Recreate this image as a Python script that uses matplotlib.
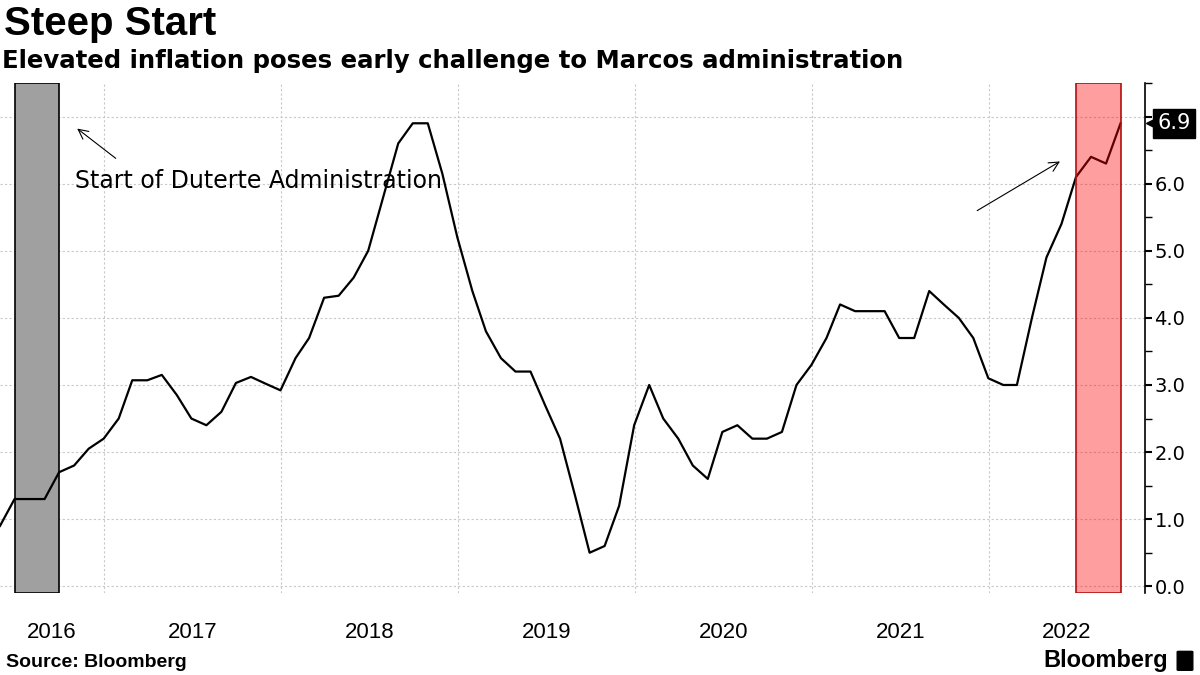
import matplotlib
matplotlib.use("Agg")
import matplotlib.pyplot as plt
import matplotlib.dates as mdates
import matplotlib.transforms as mtrans
from matplotlib.patches import FancyBboxPatch
import pandas as pd

# ─── 数据 (读自原图, 月末值, 2016-05 ~ 2022-09) ───────────
START_MONTH = "2016-05-31"
cpi_yoy = [
    0.9, 1.3, 1.3, 1.3, 1.7, 1.8, 2.05, 2.2,                            # 2016 May-Dec
    2.5, 3.07, 3.07, 3.15, 2.85, 2.5, 2.4, 2.6, 3.03, 3.12, 3.02, 2.92,  # 2017
    3.4, 3.7, 4.3, 4.33, 4.6, 5.0, 5.8, 6.6, 6.9, 6.9, 6.15, 5.2,       # 2018
    4.4, 3.8, 3.4, 3.2, 3.2, 2.7, 2.2, 1.35, 0.5, 0.6, 1.2, 2.4,        # 2019
    3.0, 2.5, 2.2, 1.8, 1.6, 2.3, 2.4, 2.2, 2.2, 2.3, 3.0, 3.3,         # 2020
    3.7, 4.2, 4.1, 4.1, 4.1, 3.7, 3.7, 4.4, 4.2, 4.0, 3.7, 3.1,         # 2021
    3.0, 3.0, 4.0, 4.9, 5.4, 6.1, 6.4, 6.3, 6.9,                        # 2022 Jan-Sep
]
dates = pd.date_range(START_MONTH, periods=len(cpi_yoy), freq="ME")

duterte_span = ("2016-06-30", "2016-09-30")
marcos_span = ("2022-06-30", "2022-09-30")
years = [2016, 2017, 2018, 2019, 2020, 2021, 2022]
y_ticks = [0, 1, 2, 3, 4, 5, 6, 7]

TITLE = "Steep Start"
SUBTITLE = "Elevated inflation poses early challenge to Marcos administration"
NOTE = "Start of Duterte Administration"
SOURCE = "Source: Bloomberg"

NARROW = ["Liberation Sans Narrow", "Liberation Sans", "DejaVu Sans"]

# ─── 绘图 ─────────────────────────────────────────────
fig = plt.figure(figsize=(12, 6.75), dpi=100)
ax = fig.add_axes([0.0, 0.1215, 0.954, 0.7555])

x_left = pd.Timestamp(START_MONTH)
x_right = pd.Timestamp("2022-11-19")
ax.set_xlim(x_left, x_right)
ax.set_ylim(-0.1, 7.5)

# 背景区间
ax.axvspan(pd.Timestamp(duterte_span[0]), pd.Timestamp(duterte_span[1]),
           facecolor="#a0a0a0", edgecolor="black", linewidth=1.2, zorder=1)
ax.axvspan(pd.Timestamp(marcos_span[0]), pd.Timestamp(marcos_span[1]),
           facecolor=(1, 0, 0, 0.38), edgecolor="#b01010", linewidth=1.2, zorder=4)

ax.plot(dates, cpi_yoy, color="black", linewidth=1.6, zorder=3)

# 网格
ax.xaxis.set_major_locator(mdates.YearLocator())
ax.set_yticks(y_ticks)
ax.set_yticks([t + 0.5 for t in y_ticks], minor=True)
ax.grid(True, which="major", color="#c8c8c8", linestyle=(0, (2, 2)), linewidth=0.8)
ax.set_axisbelow(True)

for side in ["top", "left", "bottom"]:
    ax.spines[side].set_visible(False)
ax.spines["right"].set_linewidth(1.2)
ax.yaxis.tick_right()
ax.tick_params(axis="x", length=0, labelbottom=False)
ax.tick_params(axis="y", which="major", length=5, width=1.5, direction="out",
               labelsize=14, pad=2)
ax.tick_params(axis="y", which="minor", length=5, width=1.0, direction="out")
ax.yaxis.set_major_formatter(matplotlib.ticker.FormatStrFormatter("%.1f"))

# 年份标签: 居中于可见区间
blend = mtrans.blended_transform_factory(ax.transData, ax.transAxes)
for yr in years:
    s = max(pd.Timestamp(f"{yr}-01-01"), x_left)
    e = min(pd.Timestamp(f"{yr + 1}-01-01"), x_right)
    mid = s + (e - s) / 2
    ax.text(mid, -0.078, str(yr), transform=blend, ha="center", va="center",
            fontsize=16, family=NARROW)

# 最新值标签
yblend = mtrans.blended_transform_factory(ax.transAxes, ax.transData)
ax.plot([1.008], [cpi_yoy[-1]], transform=yblend, marker="<", markersize=12,
        color="black", clip_on=False, zorder=10)
ax.annotate(f"{cpi_yoy[-1]:.1f}", xy=(1.0, cpi_yoy[-1]), xycoords=yblend,
            xytext=(9, 0), textcoords="offset points", ha="left", va="center",
            fontsize=15, color="white", annotation_clip=False, zorder=10,
            bbox=dict(boxstyle="square,pad=0.22", fc="black", ec="black"))

# 注释
ax.annotate("", xy=(0.0655, 0.914), xycoords="axes fraction",
            xytext=(0.103, 0.849), textcoords="axes fraction",
            arrowprops=dict(arrowstyle="->,head_length=0.7,head_width=0.35",
                            color="black", linewidth=0.8))
ax.text(0.0655, 0.808, NOTE, transform=ax.transAxes, ha="left", va="center",
        fontsize=17, family=["DejaVu Sans"])
ax.annotate("", xy=(0.928, 0.849), xycoords="axes fraction",
            xytext=(0.8515, 0.747), textcoords="axes fraction",
            arrowprops=dict(arrowstyle="->,head_length=0.7,head_width=0.35",
                            color="black", linewidth=0.8))

# 标题 / 来源
fig.text(0.003, 0.965, TITLE, ha="left", va="center", fontsize=29,
         fontweight="bold", family=["Liberation Sans", "DejaVu Sans"])
fig.text(0.002, 0.910, SUBTITLE, ha="left", va="center", fontsize=17.6,
         fontweight="bold", family=["DejaVu Sans"])
fig.text(0.005, 0.019, SOURCE, ha="left", va="center", fontsize=14,
         fontweight="bold", family=NARROW)
fig.text(0.973, 0.021, "Bloomberg", ha="right", va="center", fontsize=17,
         fontweight="bold", family=NARROW)
fig.patches.append(FancyBboxPatch((0.982, 0.008), 0.011, 0.026,
                                  boxstyle="round,pad=0.001", fc="black",
                                  ec="black", transform=fig.transFigure))

fig.savefig("out.png", dpi=100)
